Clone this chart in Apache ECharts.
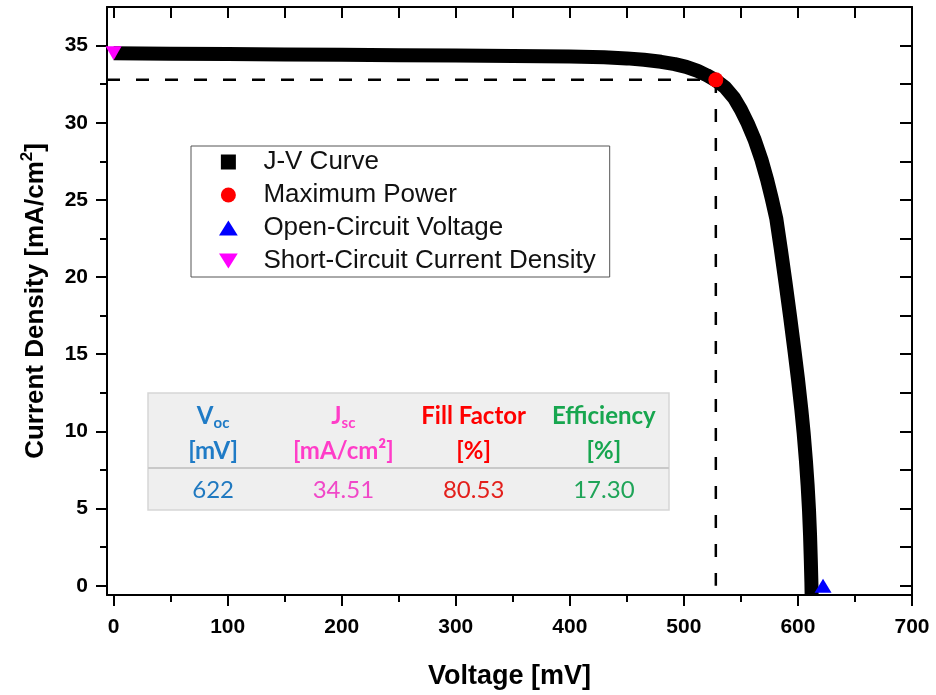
<!DOCTYPE html>
<html>
<head>
<meta charset="utf-8">
<script src="https://cdn.jsdelivr.net/npm/echarts@6.0.0/dist/echarts.min.js"></script>
<style>
html,body{margin:0;padding:0;background:#fff;}
#chart{width:936px;height:695px;}
</style>
</head>
<body>
<div id="chart"></div>
<script>
// ---- data ----
const voltage = [0, 50, 100, 150, 200, 250, 300, 350, 400, 430, 450, 465, 480, 492, 502, 512, 520, 528,
  536, 544, 550, 556, 562, 568, 573, 577, 581, 585, 589, 593, 597, 600, 603, 605, 607, 608.5, 609.7, 610.6, 611.3, 611.8, 612];
const currentDensity = [34.50, 34.47, 34.45, 34.43, 34.40, 34.38, 34.36, 34.33, 34.29, 34.24, 34.17, 34.08, 33.95, 33.80, 33.62, 33.36, 33.08, 32.75,
  32.3, 31.6, 30.85, 29.95, 28.9, 27.6, 26.3, 25.1, 23.8, 21.8, 19.7, 17.5, 15.2, 13.4, 11.4, 9.9, 8.1, 6.5, 4.9, 3.3, 1.6, 0.2, -0.6];
const mppPoint = [528, 32.78];
const vocPoint = [622, 0];
const jscPoint = [0, 34.51];
const xRange = [-5.8, 700];
const yRange = [-0.6, 37.5];
const xTickLabels = [0, 100, 200, 300, 400, 500, 600, 700];
const xMinorTicks = [50, 150, 250, 350, 450, 550, 650];
const yTickLabels = [0, 5, 10, 15, 20, 25, 30, 35];
const yMinorTicks = [2.5, 7.5, 12.5, 17.5, 22.5, 27.5, 32.5];
const seriesNames = ['J-V Curve', 'Maximum Power', 'Open-Circuit Voltage', 'Short-Circuit Current Density'];
const tableHeaders = ['V', 'J', 'Fill Factor', 'Efficiency'];
const tableSubscripts = ['oc', 'sc', '', ''];
const tableUnits = ['[mV]', '[mA/cm²]', '[%]', '[%]'];
const tableValues = ['622', '34.51', '80.53', '17.30'];
const tableHeaderColors = ['#1F7BC6', '#FF3DC8', '#FF0000', '#17A64F'];
const tableValueColors = ['#2079C0', '#F048C8', '#E3201C', '#1FA458'];

// ---- build ----
const allXTicks = xTickLabels.concat(xMinorTicks).sort((a, b) => a - b);
const allYTicks = yTickLabels.concat(yMinorTicks).sort((a, b) => a - b);
const AX_FONT = 'Liberation Sans, Arial, sans-serif';

function baseAxis(pos, range) {
  return {
    type: 'value', position: pos, min: range[0], max: range[1],
    splitLine: { show: false },
    axisLine: { show: false, onZero: false, lineStyle: { color: '#000', width: 2 } },
    axisTick: { show: false },
    axisLabel: { show: false }
  };
}
function merge(a, b) { return Object.assign(a, b); }

const xAxes = [
  merge(baseAxis('bottom', xRange), {
    axisLine: { show: true, onZero: false, lineStyle: { color: '#000', width: 2 } },
    axisTick: { show: true, inside: false, length: 11, customValues: xTickLabels, lineStyle: { color: '#000', width: 2 } },
    axisLabel: { show: true, customValues: xTickLabels, margin: 22, color: '#000', fontFamily: AX_FONT, fontWeight: 'bold', fontSize: 21 },
    name: 'Voltage [mV]', nameLocation: 'middle', nameGap: 68,
    nameTextStyle: { color: '#000', fontFamily: AX_FONT, fontWeight: 'bold', fontSize: 27 }
  }),
  merge(baseAxis('bottom', xRange), {
    axisTick: { show: true, inside: false, length: 7, customValues: xMinorTicks, lineStyle: { color: '#000', width: 2 } }
  }),
  merge(baseAxis('top', xRange), {
    axisLine: { show: true, onZero: false, lineStyle: { color: '#000', width: 2 } },
    axisTick: { show: true, inside: true, length: 11, customValues: allXTicks, lineStyle: { color: '#000', width: 2 } }
  })
];
const yAxes = [
  merge(baseAxis('left', yRange), {
    axisLine: { show: true, onZero: false, lineStyle: { color: '#000', width: 2 } },
    axisTick: { show: true, inside: false, length: 11, customValues: yTickLabels, lineStyle: { color: '#000', width: 2 } },
    axisLabel: { show: true, customValues: yTickLabels, margin: 19, color: '#000', fontFamily: AX_FONT, fontWeight: 'bold', fontSize: 21 },
    name: '{a|Current Density [mA/cm}{s|2}{a|]}', nameLocation: 'middle', nameGap: 54, nameRotate: 90,
    nameTextStyle: {
      color: '#000', fontFamily: AX_FONT, fontWeight: 'bold', fontSize: 26,
      rich: {
        a: { color: '#000', fontFamily: AX_FONT, fontWeight: 'bold', fontSize: 26, lineHeight: 34 },
        s: { color: '#000', fontFamily: AX_FONT, fontWeight: 'bold', fontSize: 17, lineHeight: 17, verticalAlign: 'top' }
      }
    }
  }),
  merge(baseAxis('left', yRange), {
    axisTick: { show: true, inside: false, length: 7, customValues: yMinorTicks, lineStyle: { color: '#000', width: 2 } }
  }),
  merge(baseAxis('right', yRange), {
    axisLine: { show: true, onZero: false, lineStyle: { color: '#000', width: 2 } },
    axisTick: { show: true, inside: true, length: 12, customValues: allYTicks, lineStyle: { color: '#000', width: 2 } }
  })
];

const jvData = voltage.map((v, i) => [v, currentDensity[i]]);
const guideData = [[xRange[0], mppPoint[1]], [mppPoint[0], mppPoint[1]], [mppPoint[0], 0]];
const squareIcon = 'path://M0,0 L12,0 L12,12 L0,12 Z';
const downTri = 'path://M0,0 L20,0 L10,16 Z';
const upTri = 'path://M10,0 L20,16 L0,16 Z';

// table graphic
const TFONT = 'Lato, "Open Sans", sans-serif';
const tX = 148, tY = 393, tW = 521, tH = 117, sepY = 468;
const colW = tW / tableHeaders.length;
const tableEls = [
  { type: 'rect', shape: { x: tX, y: tY, width: tW, height: tH }, style: { fill: '#EFEFEF', stroke: '#D6D6D6', lineWidth: 1.5 }, z: 10 },
  { type: 'line', shape: { x1: tX, y1: sepY, x2: tX + tW, y2: sepY }, style: { stroke: '#C9C9C9', lineWidth: 2 }, z: 11 }
];
tableHeaders.forEach((h, i) => {
  const cx = tX + colW * (i + 0.5);
  const c = tableHeaderColors[i];
  const txt = '{h|' + h + '}' + (tableSubscripts[i] ? '{s|' + tableSubscripts[i] + '}' : '');
  tableEls.push({
    type: 'text', x: cx, y: 416, z: 12,
    style: {
      text: txt, align: 'center', verticalAlign: 'middle', textAlign: 'center', textVerticalAlign: 'middle',
      rich: {
        h: { fontFamily: TFONT, fontWeight: 'bold', fontSize: 24, fill: c, lineHeight: 30 },
        s: { fontFamily: TFONT, fontWeight: 'bold', fontSize: 15, fill: c, lineHeight: 15, verticalAlign: 'bottom' }
      }
    }
  });
  tableEls.push({
    type: 'text', x: cx, y: 451, z: 12,
    style: { text: tableUnits[i], align: 'center', verticalAlign: 'middle', textAlign: 'center', textVerticalAlign: 'middle',
      fontFamily: TFONT, fontWeight: 'bold', fontSize: 24, fill: c }
  });
  tableEls.push({
    type: 'text', x: cx, y: 490, z: 12,
    style: { text: tableValues[i], align: 'center', verticalAlign: 'middle', textAlign: 'center', textVerticalAlign: 'middle',
      fontFamily: TFONT, fontWeight: 'normal', fontSize: 24, fill: tableValueColors[i] }
  });
});

const chart = echarts.init(document.getElementById('chart'), null, { renderer: 'canvas' });
chart.setOption({
  animation: false,
  backgroundColor: '#fff',
  grid: { left: 107, right: 24, top: 7, bottom: 97, containLabel: false },
  xAxis: xAxes,
  yAxis: yAxes,
  legend: {
    orient: 'vertical', left: 191, top: 146,
    padding: [3, 14, 3, 28],
    itemWidth: 60, itemHeight: 15, itemGap: 7,
    borderColor: '#555', borderWidth: 1, backgroundColor: '#fff',
    selectedMode: false,
    textStyle: { color: '#111', fontFamily: AX_FONT, fontSize: 26, lineHeight: 24 },
    data: [
      { name: seriesNames[0], icon: squareIcon, itemStyle: { color: '#000' } },
      { name: seriesNames[1], icon: 'circle', itemStyle: { color: '#FF0000', opacity: 1 } },
      { name: seriesNames[2], icon: upTri, itemStyle: { color: '#0000FF', opacity: 1 } },
      { name: seriesNames[3], icon: downTri, itemStyle: { color: '#FF00FF', opacity: 1 } }
    ]
  },
  graphic: { elements: tableEls },
  series: [
    {
      name: 'guide', type: 'line', data: guideData, xAxisIndex: 0, yAxisIndex: 0,
      symbol: 'none', silent: true, z: 1,
      lineStyle: { color: '#000', width: 2.5, type: [13, 16] }
    },
    {
      name: seriesNames[0], type: 'line', data: jvData, xAxisIndex: 0, yAxisIndex: 0,
      color: '#000', symbol: 'none', showSymbol: false, z: 2,
      itemStyle: { color: '#000' },
      lineStyle: { color: '#000', width: 14, join: 'round', cap: 'butt' }
    },
    {
      name: seriesNames[1], type: 'scatter', data: [mppPoint], xAxisIndex: 0, yAxisIndex: 0,
      color: '#FF0000', symbol: 'circle', symbolSize: 15, z: 5, itemStyle: { color: '#FF0000', opacity: 1 }
    },
    {
      name: seriesNames[2], type: 'scatter', data: [vocPoint], xAxisIndex: 0, yAxisIndex: 0,
      color: '#0000FF', symbol: upTri, symbolSize: [17, 14], z: 5, itemStyle: { color: '#0000FF', opacity: 1 }
    },
    {
      name: seriesNames[3], type: 'scatter', data: [jscPoint], xAxisIndex: 0, yAxisIndex: 0,
      color: '#FF00FF', symbol: downTri, symbolSize: [16, 14], z: 5, itemStyle: { color: '#FF00FF', opacity: 1 }
    }
  ]
});
</script>
</body>
</html>
